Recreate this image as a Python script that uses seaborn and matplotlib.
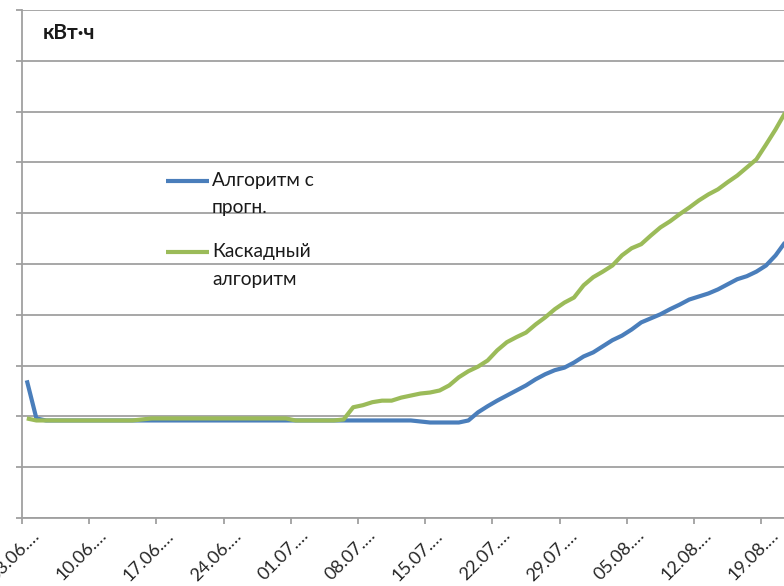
import numpy as np
import pandas as pd
import seaborn as sns
import matplotlib
matplotlib.use("Agg")
import matplotlib.pyplot as plt
import matplotlib.transforms as mtransforms
from matplotlib.legend_handler import HandlerLine2D

# Daily cumulative energy, kWh (one value per day starting 03.06)
forecast_algo = [71, -4, -8, -8, -8, -8, -8, -8, -8, -8,
                 -8, -8, -8, -8, -8, -8, -8, -8, -8, -8,
                 -8, -8, -8, -8, -8, -8, -8, -8, -8, -8,
                 -8, -8, -8, -8, -8, -8, -8, -8, -8, -8,
                 -8, -10, -12, -12, -12, -12, -8, 8, 20, 31,
                 41, 51, 61, 73, 83, 91, 96, 106, 118, 126,
                 138, 150, 159, 171, 185, 193, 201, 211, 220, 230,
                 236, 242, 250, 260, 270, 276, 285, 297, 317, 343]
cascade_algo = [-4, -8, -8, -8, -8, -8, -8, -8, -8, -8,
                -8, -8, -6, -4, -4, -4, -4, -4, -4, -4,
                -4, -4, -4, -4, -4, -4, -4, -4, -8, -8,
                -8, -8, -8, -6, 18, 22, 28, 31, 31, 37,
                41, 45, 47, 51, 61, 77, 89, 98, 110, 130,
                146, 156, 165, 181, 195, 211, 224, 234, 258, 274,
                285, 297, 317, 331, 339, 356, 372, 384, 398, 411,
                425, 437, 447, 461, 474, 490, 506, 535, 565, 598]
series_names = ["Алгоритм с\nпрогн.", "Каскадный\nалгоритм"]
date_labels = ["03.06.…", "10.06.…", "17.06.…", "24.06.…", "01.07.…", "08.07.…",
               "15.07.…", "22.07.…", "29.07.…", "05.08.…", "12.08.…", "19.08.…"]
unit_label = "кВт·ч"

BLUE = "#4A7EBB"
GREEN = "#9BBB59"
GRID = "#A0A0A0"

n = len(forecast_algo)
df = pd.DataFrame({
    "day": list(range(n)) * 2,
    "value": forecast_algo + cascade_algo,
    "series": [series_names[0]] * n + [series_names[1]] * n,
})

sns.set_theme(style="white")
plt.rcParams["font.family"] = ["Lato", "DejaVu Sans"]

fig = plt.figure(figsize=(7.84, 5.86), dpi=100)
W, H = 784, 586
ax = fig.add_axes([22 / W, (H - 518) / H, (784 - 22) / W, (518 - 10) / H])

sns.lineplot(data=df, x="day", y="value", hue="series",
             palette=[BLUE, GREEN], linewidth=3.0, ax=ax,
             legend=False, solid_capstyle="butt")

ax.set_xlim(-0.5, -0.5 + 762 / 9.6)
ax.set_ylim(-200, 800)
ax.set_yticks(np.arange(-200, 801, 100))
ax.set_yticklabels([])
ax.yaxis.grid(True, color=GRID, linewidth=1.3)
ax.xaxis.grid(False)
ax.set_axisbelow(True)

ax.set_xticks(np.arange(-0.5, n, 7)[:len(date_labels)])
ax.set_xticklabels(date_labels, rotation=45, ha="right", va="center",
                   rotation_mode="anchor", fontsize=13, color="#262626")
ax.tick_params(axis="both", direction="out", length=4.3, width=1.3,
               color=GRID, pad=0)
ax.tick_params(axis="x", bottom=True)
ax.tick_params(axis="y", left=True)
shift = mtransforms.ScaledTranslation(15 / 100, -9 / 100, fig.dpi_scale_trans)
for lab in ax.get_xticklabels():
    lab.set_transform(lab.get_transform() + shift)

for side in ["top", "right"]:
    ax.spines[side].set_visible(False)
for side in ["left", "bottom"]:
    ax.spines[side].set_color(GRID)
    ax.spines[side].set_linewidth(1.3)
ax.set_xlabel("")
ax.set_ylabel("")

fig.text(43 / W, 1 - 33 / H, unit_label, fontsize=15, fontweight="bold",
         color="#1a1a1a", ha="left", va="center")


class FirstLineHandler(HandlerLine2D):
    """Legend line aligned with the first text row of a two-row label."""
    def __init__(self, dy_pt, **kw):
        super().__init__(**kw)
        self.dy_pt = dy_pt

    def create_artists(self, legend, orig_handle, xdescent, ydescent,
                       width, height, fontsize, trans):
        off = mtransforms.ScaledTranslation(0, self.dy_pt / 72,
                                            legend.figure.dpi_scale_trans)
        return super().create_artists(legend, orig_handle, xdescent, ydescent,
                                      width, height, fontsize, trans + off)


handles = ax.get_lines()[:2]
hmap = {h: FirstLineHandler(10) for h in handles}
leg = ax.legend(handles, series_names, handler_map=hmap,
                loc="upper left", bbox_to_anchor=(166 / W, 1 - 172 / H),
                bbox_transform=fig.transFigure, frameon=False,
                fontsize=13.8, handlelength=2.25, handletextpad=0.15,
                labelspacing=1.4, borderpad=0, borderaxespad=0)
for t in leg.get_texts():
    t.set_linespacing(1.75)
    t.set_color("#1a1a1a")
for h in leg.get_lines():
    h.set_linewidth(3.0)

fig.savefig("out.png", dpi=100)
